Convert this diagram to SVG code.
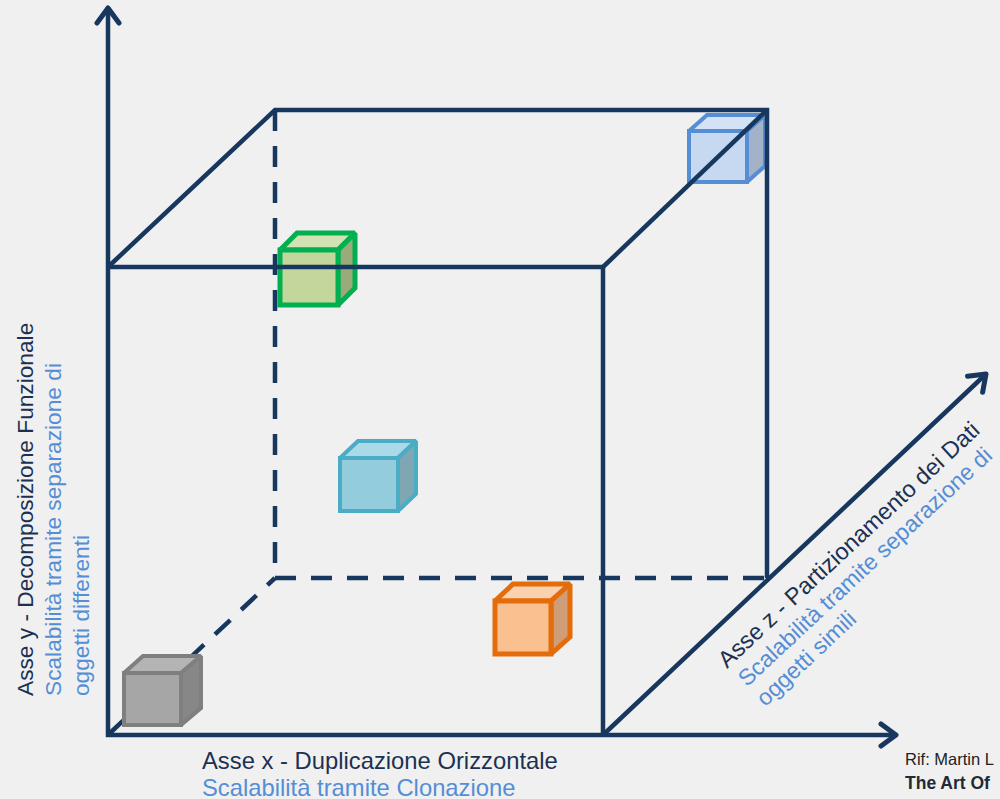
<svg xmlns="http://www.w3.org/2000/svg" width="1000" height="799" viewBox="0 0 1000 799">
<defs>
<style>
.ax{fill:none;stroke:#17375e;stroke-width:4.5;stroke-linecap:butt}
.dash{fill:none;stroke:#17375e;stroke-width:4.5;stroke-dasharray:21 15}
.t{font-family:"Liberation Sans",Arial,sans-serif}
.main{fill:#1c3152}
.sub{fill:#558ed5}
.cube{stroke-linejoin:miter;stroke-miterlimit:2}
</style>
<marker id="arr" markerUnits="userSpaceOnUse" markerWidth="40" markerHeight="40" refX="0" refY="0" viewBox="-20 -20 40 40" orient="auto" overflow="visible">
<path d="M-15,-11 L0,0 L-15,11" fill="none" stroke="#17375e" stroke-width="5" stroke-linecap="round" stroke-linejoin="round"/>
</marker>
</defs>
<rect x="0" y="0" width="1000" height="799" fill="#f0f0f0"/>

<g id="cube-blue" class="cube" stroke="#558ed5" stroke-width="4">
<path d="M689,131 L707,115 L765,115 L747,131 Z" fill="#d4e2f5"/>
<path d="M747,131 L765,115 L765,166 L747,182 Z" fill="#a3b2c8"/>
<rect x="689" y="131" width="58" height="51" fill="#c6d9f1"/>
</g>
<g id="cube-green" class="cube" stroke="#00b050" stroke-width="5">
<path d="M280,250 L297,233 L355,233 L338,250 Z" fill="#d3e2b3"/>
<path d="M338,250 L355,233 L355,288 L338,305 Z" fill="#9aaa78"/>
<rect x="280" y="250" width="58" height="55" fill="#c3d69b"/>
</g>
<g id="cube-cyan" class="cube" stroke="#4bacc6" stroke-width="4">
<path d="M340,458 L358,441 L416,441 L398,458 Z" fill="#abd9e7"/>
<path d="M398,458 L416,441 L416,494 L398,511 Z" fill="#7fa6b3"/>
<rect x="340" y="458" width="58" height="53" fill="#93cddd"/>
</g>
<g id="cube-orange" class="cube" stroke="#e46c0a" stroke-width="5">
<path d="M495,601 L513,584 L570,584 L551,601 Z" fill="#fbd2b0"/>
<path d="M551,601 L570,584 L570,637 L551,654 Z" fill="#cf9d78"/>
<rect x="495" y="601" width="56" height="53" fill="#fac090"/>
</g>

<g id="connectors">
<line class="dash" x1="275" y1="110" x2="275" y2="578"/>
<line class="dash" x1="275" y1="578" x2="767" y2="578"/>
<line class="dash" x1="110" y1="733" x2="275" y2="578"/>
<line class="ax" x1="108" y1="737" x2="108" y2="8" marker-end="url(#arr)"/>
<line class="ax" x1="106" y1="735" x2="896" y2="735" marker-end="url(#arr)"/>
<line class="ax" x1="603" y1="735" x2="986" y2="374" marker-end="url(#arr)"/>
<polyline class="ax" points="108,267 603,267 603,735"/>
<polyline class="ax" points="108,267 275,110 767,110 767,578"/>
<line class="ax" x1="603" y1="267" x2="767" y2="110"/>
</g>

<g id="cube-gray" class="cube" stroke="#7f7f7f" stroke-width="4">
<path d="M124,673 L143,656 L201,656 L181,673 Z" fill="#b4b4b4"/>
<path d="M181,673 L201,656 L201,708 L181,725 Z" fill="#878787"/>
<rect x="124" y="673" width="57" height="52" fill="#a6a6a6"/>
</g>

<g id="label-x" class="t">
<text x="202" y="769" font-size="23.8" class="main">Asse x - Duplicazione Orizzontale</text>
<text x="202" y="796" font-size="23.8" class="sub">Scalabilità tramite Clonazione</text>
</g>
<g id="label-y" class="t" transform="translate(33,696) rotate(-90)">
<text x="0" y="0" font-size="22.7" class="main">Asse y - Decomposizione Funzionale</text>
<text x="0" y="28" font-size="22.7" class="sub">Scalabilità tramite separazione di</text>
<text x="0" y="56" font-size="22.7" class="sub">oggetti differenti</text>
</g>
<g id="label-z" class="t" transform="translate(727,669) rotate(-43)">
<text x="0" y="0" font-size="23.5" class="main">Asse z - Partizionamento dei Dati</text>
<text x="2" y="27" font-size="23" class="sub">Scalabilità tramite separazione di</text>
<text x="2" y="54" font-size="23" class="sub">oggetti simili</text>
</g>
<g id="ref" class="t">
<text x="905" y="765" font-size="16.5" fill="#222">Rif: Martin L</text>
<text x="905" y="789" font-size="17.5" font-weight="bold" fill="#1f2a36">The Art Of</text>
</g>
</svg>
